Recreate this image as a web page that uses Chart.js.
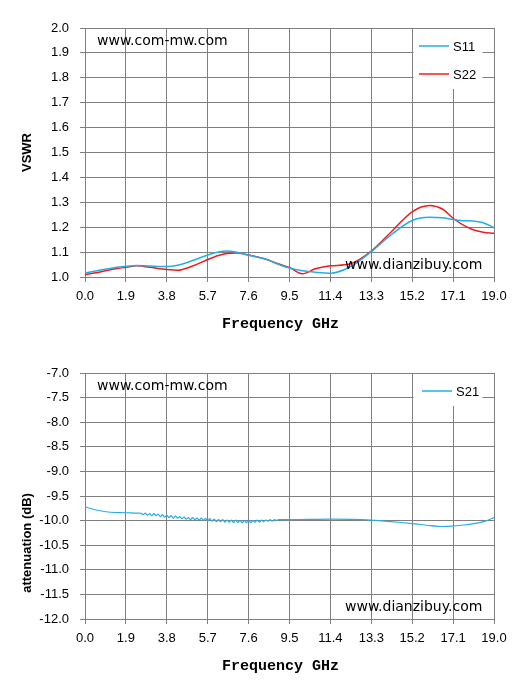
<!DOCTYPE html>
<html>
<head>
<meta charset="utf-8">
<script src="https://cdn.jsdelivr.net/npm/chart.js@4.4.1/dist/chart.umd.min.js"></script>
<style>
  body { margin: 0; background: #fff; }
  .box { position: absolute; left: 0; width: 530px; }
</style>
</head>
<body>
<div class="box" style="top:0;height:345px"><canvas id="vswrChart"></canvas></div>
<div class="box" style="top:345px;height:342px"><canvas id="s21Chart"></canvas></div>
<script>
// eje X comun (GHz)
const xTicks = [0.0, 1.9, 3.8, 5.7, 7.6, 9.5, 11.4, 13.3, 15.2, 17.1, 19.0];

// VSWR
const freqVswr = [0, 0.5, 1.0, 1.5, 1.9, 2.4, 3.0, 3.8, 4.3, 5.0, 5.7, 6.2, 6.6, 7.0, 7.6, 8.4, 9.0, 9.5, 10.1, 10.7, 11.4, 12.3, 13.3, 14.3, 15.2, 16.0, 16.6, 17.1, 17.6, 18.0, 18.5, 19.0];
const s11 = [1.016, 1.024, 1.032, 1.039, 1.043, 1.046, 1.044, 1.042, 1.047, 1.066, 1.088, 1.100, 1.104, 1.100, 1.087, 1.072, 1.050, 1.036, 1.025, 1.019, 1.015, 1.040, 1.102, 1.175, 1.227, 1.240, 1.238, 1.231, 1.226, 1.225, 1.218, 1.198];
const s22 = [1.009, 1.017, 1.026, 1.034, 1.039, 1.045, 1.039, 1.030, 1.027, 1.044, 1.070, 1.086, 1.094, 1.096, 1.088, 1.071, 1.052, 1.038, 1.013, 1.033, 1.045, 1.052, 1.104, 1.188, 1.262, 1.287, 1.273, 1.236, 1.207, 1.191, 1.180, 1.176];

// S21 atenuacion
const freqS21 = [0, 0.3, 0.7, 1.2, 1.9, 2.4,
  2.6, 2.7, 2.8, 2.9, 3.0, 3.1, 3.2, 3.3, 3.4, 3.5, 3.6, 3.7, 3.8, 3.9, 4.0, 4.1, 4.2, 4.3, 4.4, 4.5, 4.6, 4.7, 4.8, 4.9,
  5.0, 5.1, 5.2, 5.3, 5.4, 5.5, 5.6, 5.7, 5.8, 5.9, 6.0, 6.1, 6.2, 6.3, 6.4, 6.5, 6.6, 6.7, 6.8, 6.9,
  7.0, 7.1, 7.2, 7.3, 7.4, 7.5, 7.6, 7.7, 7.8, 7.9, 8.0, 8.1, 8.2, 8.3, 8.4, 8.5, 8.6, 8.7, 8.8, 8.9, 9.0,
  9.5, 10.4, 11.4, 12.4, 13.3, 14.2, 15.2, 16.0, 16.6, 17.1, 17.6, 18.2, 18.6, 19.0];
const s21 = [-9.72, -9.76, -9.80, -9.83, -9.84, -9.85,
  -9.85, -9.88, -9.85, -9.89, -9.86, -9.90, -9.86, -9.90, -9.87, -9.92, -9.88, -9.93, -9.89, -9.94, -9.90, -9.95, -9.91, -9.95, -9.92, -9.96, -9.93, -9.97, -9.94, -9.98,
  -9.94, -9.98, -9.95, -9.99, -9.95, -9.99, -9.96, -10.00, -9.96, -10.01, -9.97, -10.02, -9.98, -10.02, -9.98, -10.03, -9.99, -10.03, -9.99, -10.04,
  -9.99, -10.04, -10.00, -10.04, -10.00, -10.04, -10.00, -10.04, -10.00, -10.03, -9.99, -10.03, -9.99, -10.02, -9.99, -10.01, -9.98, -10.01, -9.98, -10.00, -9.98,
  -9.98, -9.975, -9.97, -9.975, -9.99, -10.02, -10.06, -10.10, -10.12, -10.11, -10.09, -10.05, -10.01, -9.94];

const gridColor = '#7f7f7f';
const tickFont = { family: 'Liberation Sans', size: 13 };

function puntos(xs, ys) {
    return xs.map((x, i) => ({ x: x, y: ys[i] }));
}

// leyenda dentro del area + marcas de agua
const extras = {
    id: 'extras',
    afterDatasetsDraw(chart, args, opts) {
        const ctx = chart.ctx;
        const a = chart.chartArea;
        ctx.save();
        ctx.fillStyle = '#fff';
        ctx.fillRect(a.right - 80.5, a.top + 1, 69, opts.boxH);
        ctx.font = '13px Liberation Sans';
        ctx.textBaseline = 'middle';
        chart.data.datasets.forEach((ds, i) => {
            const y = a.top + 18 + i * 28;
            ctx.strokeStyle = ds.borderColor;
            ctx.lineWidth = 1.5;
            ctx.beginPath();
            ctx.moveTo(a.right - 75 + opts.dx, y);
            ctx.lineTo(a.right - 45 + opts.dx, y);
            ctx.stroke();
            ctx.fillStyle = '#000';
            ctx.fillText(ds.label, a.right - 41 + opts.dx, y + 1);
        });
        ctx.font = '14px DejaVu Sans';
        ctx.fillStyle = '#000';
        ctx.fillText('www.com-mw.com', a.left + 12, a.top + 13);
        ctx.fillText('www.dianzibuy.com', a.right - 149, a.bottom - 12);
        ctx.restore();
    }
};

function crearGrafico(id, datasets, yMin, yMax, yStep, yTitulo, boxH, dx) {
    return new Chart(document.getElementById(id), {
        type: 'line',
        data: { datasets: datasets },
        options: {
            responsive: true,
            maintainAspectRatio: false,
            animation: false,
            layout: { padding: { top: 28, right: 36, bottom: 8, left: 0 } },
            plugins: {
                legend: { display: false },
                tooltip: { enabled: false },
                extras: { boxH: boxH, dx: dx }
            },
            elements: { point: { radius: 0 } },
            scales: {
                x: {
                    type: 'linear',
                    min: 0,
                    max: 19,
                    afterBuildTicks: ax => { ax.ticks = xTicks.map(v => ({ value: v })); },
                    afterFit: ax => { ax.height = 60; },
                    ticks: { font: tickFont, color: '#000', padding: 7, maxRotation: 0, callback: v => v.toFixed(1) },
                    grid: { color: gridColor, tickLength: 5, lineWidth: 1 },
                    border: { color: gridColor },
                    title: {
                        display: true,
                        text: 'Frequency GHz  ',
                        color: '#000',
                        font: { family: 'Liberation Mono', size: 15, weight: 'bold' },
                        padding: { top: 0, bottom: 4 }
                    }
                },
                y: {
                    min: yMin,
                    max: yMax,
                    afterBuildTicks: ax => {
                        const t = [];
                        for (let v = yMin; v <= yMax + 1e-9; v += yStep) t.push({ value: +v.toFixed(2) });
                        ax.ticks = t;
                    },
                    afterFit: ax => { ax.width = 85; },
                    ticks: { font: tickFont, color: '#000', padding: 11, callback: v => v.toFixed(1) },
                    grid: { color: gridColor, tickLength: 5, lineWidth: 1 },
                    border: { color: gridColor },
                    title: {
                        display: true,
                        text: yTitulo,
                        color: '#000',
                        font: { family: 'Liberation Sans', size: 13, weight: 'bold' },
                        padding: { top: 20, bottom: 0 }
                    }
                }
            }
        },
        plugins: [extras]
    });
}

crearGrafico('vswrChart', [
    { label: 'S11', data: puntos(freqVswr, s11), borderColor: '#25aee6', borderWidth: 1.5, tension: 0.4, cubicInterpolationMode: 'monotone', fill: false },
    { label: 'S22', data: puntos(freqVswr, s22), borderColor: '#f01c1c', borderWidth: 1.5, tension: 0.4, cubicInterpolationMode: 'monotone', fill: false }
], 1.0, 2.0, 0.1, 'VSWR', 60, 0);

crearGrafico('s21Chart', [
    { label: 'S21', data: puntos(freqS21, s21), borderColor: '#25aee6', borderWidth: 1.2, tension: 0.3, fill: false }
], -12.0, -7.0, 0.5, 'attenuation (dB)                          ', 32, 3);
</script>
</body>
</html>
